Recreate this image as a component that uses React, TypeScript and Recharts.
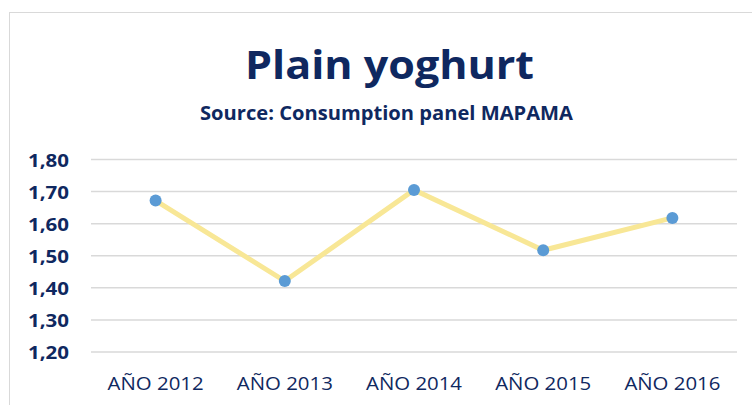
import React from "react";
import { LineChart, Line, XAxis, YAxis, CartesianGrid } from "recharts";

const categories = ["AÑO 2012", "AÑO 2013", "AÑO 2014", "AÑO 2015", "AÑO 2016"];
const values = [1.672, 1.421, 1.705, 1.517, 1.618];
const yTicks = [1.2, 1.3, 1.4, 1.5, 1.6, 1.7, 1.8];
const title = "Plain yoghurt";
const subtitle = "Source: Consumption panel MAPAMA";

const data = categories.map((c, i) => ({ name: c, value: values[i] }));

const NAVY = "#0f2860";
const FONT = "'Open Sans', 'Noto Sans', sans-serif";

const fmt = (v: number) => v.toFixed(2).replace(".", ",");

const XTick = (props: any) => {
  const { x, y, payload } = props;
  return (
    <text
      x={x}
      y={y}
      dy={13}
      textAnchor="middle"
      fill={NAVY}
      fontSize={18}
      fontFamily={FONT}
      textLength={96}
      lengthAdjust="spacingAndGlyphs"
    >
      {payload.value}
    </text>
  );
};

const YTick = (props: any) => {
  const { x, y, payload } = props;
  return (
    <text
      x={x}
      y={y}
      dy={7}
      textAnchor="end"
      fill={NAVY}
      fontSize={18}
      fontWeight={700}
      fontFamily={FONT}
      textLength={41}
      lengthAdjust="spacingAndGlyphs"
    >
      {fmt(payload.value)}
    </text>
  );
};

export default function App() {
  return (
    <div style={{ position: "absolute", left: 0, top: 0, width: 752, height: 405, background: "#fff", overflow: "hidden" }}>
      <div
        style={{
          position: "absolute",
          left: 9,
          top: 12,
          width: 800,
          height: 500,
          borderLeft: "1.5px solid #d9d9d9",
          borderTop: "1.5px solid #d9d9d9",
        }}
      />
      <svg style={{ position: "absolute", left: 0, top: 0 }} width={752} height={140}>
        <text
          x={389.5}
          y={79}
          textAnchor="middle"
          fill={NAVY}
          fontFamily={FONT}
          fontWeight={700}
          fontSize={40}
          textLength={289}
          lengthAdjust="spacingAndGlyphs"
        >
          {title}
        </text>
        <text
          x={386.5}
          y={120}
          textAnchor="middle"
          fill={NAVY}
          fontFamily={FONT}
          fontWeight={700}
          fontSize={19.5}
          textLength={373}
          lengthAdjust="spacingAndGlyphs"
        >
          {subtitle}
        </text>
      </svg>
      <div style={{ position: "absolute", left: 0, top: 0 }}>
        <LineChart
          width={752}
          height={405}
          data={data}
          margin={{ top: 159.5, right: 15, bottom: 23, left: 0 }}
        >
          <CartesianGrid horizontal={true} vertical={false} stroke="#d9d9d9" strokeWidth={1.5} />
          <XAxis
            dataKey="name"
            axisLine={false}
            tickLine={false}
            tickSize={0}
            tickMargin={25}
            height={30}
            padding={{ left: 64.6, right: 64.6 }}
            interval={0}
            tick={<XTick />}
          />
          <YAxis
            domain={[1.2, 1.8]}
            ticks={yTicks}
            width={91}
            axisLine={false}
            tickLine={false}
            tickSize={0}
            tickMargin={22}
            interval={0}
            tick={<YTick />}
          />
          <Line
            type="linear"
            dataKey="value"
            stroke="#f8e796"
            strokeWidth={5}
            dot={{ r: 6, fill: "#5b9bd5", stroke: "#5b9bd5", strokeWidth: 0 }}
            isAnimationActive={false}
          />
        </LineChart>
      </div>
    </div>
  );
}
